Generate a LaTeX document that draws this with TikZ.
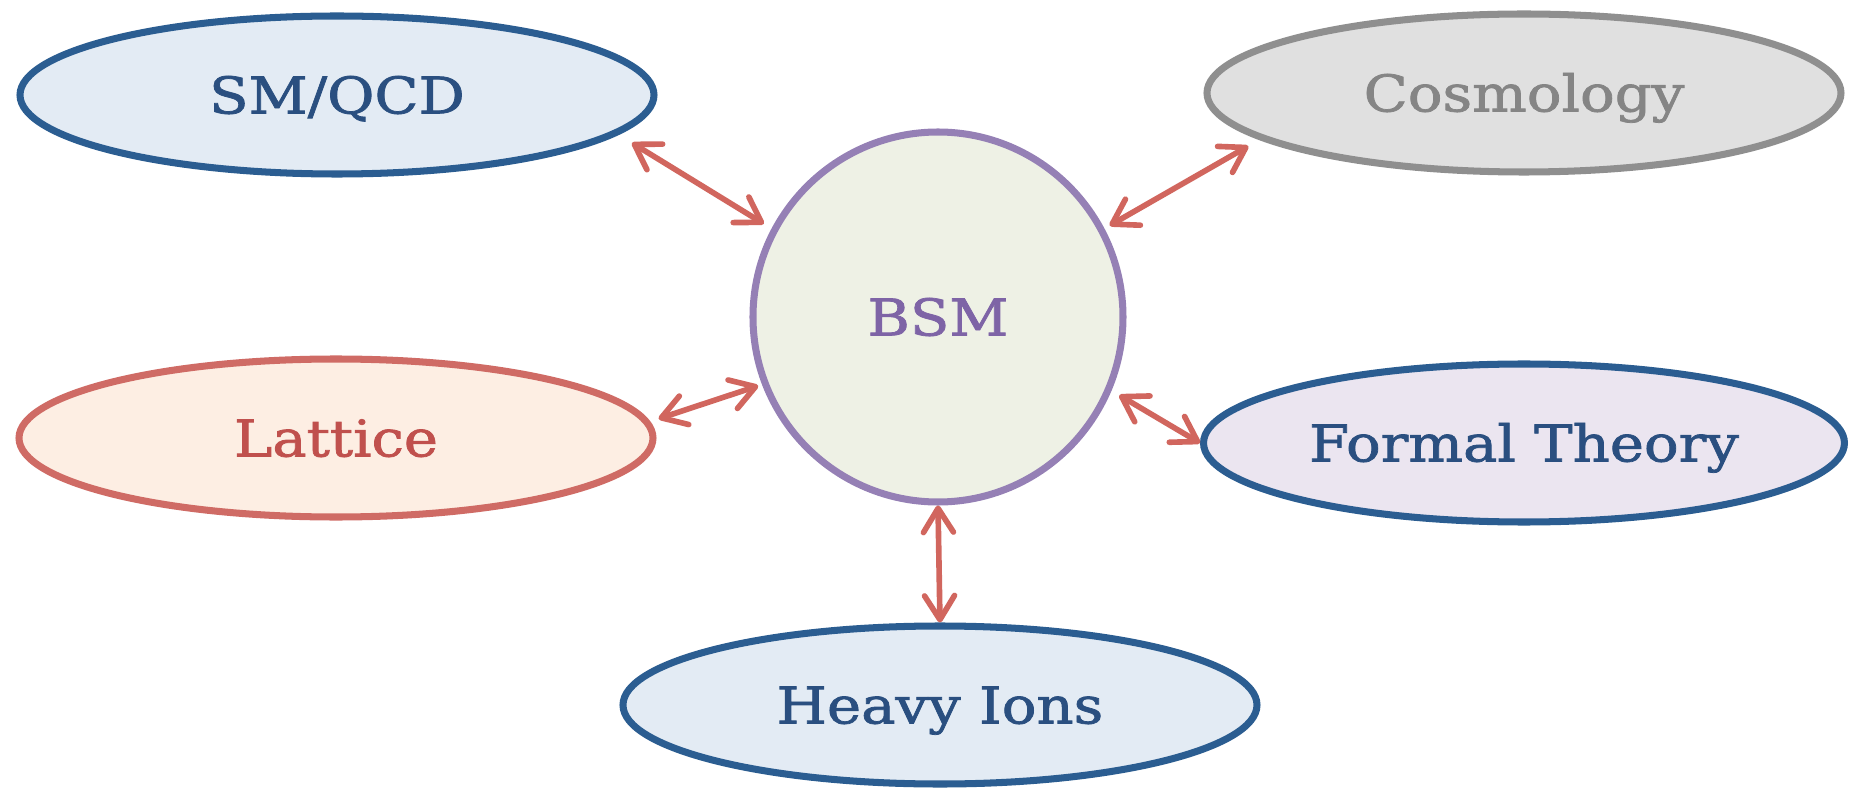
\documentclass[tikz,border=0pt]{standalone}
\usepackage{fontspec}
\setmainfont{DejaVu Serif}[FakeStretch=1.14, FakeBold=1.5]
\usepackage{xcolor}
\usetikzlibrary{shapes.geometric, arrows.meta, positioning}

\definecolor{navyline}{HTML}{2B5D91}
\definecolor{navytext}{HTML}{2A4F80}
\definecolor{paleblue}{HTML}{E3EBF4}
\definecolor{greyline}{HTML}{8F8F8F}
\definecolor{greytext}{HTML}{858585}
\definecolor{greyfill}{HTML}{E0E0E0}
\definecolor{lilacline}{HTML}{9580B5}
\definecolor{lilactext}{HTML}{7E64A6}
\definecolor{sagefill}{HTML}{EEF1E5}
\definecolor{coralline}{HTML}{CF6B65}
\definecolor{coraltext}{HTML}{C0504D}
\definecolor{peachfill}{HTML}{FDEEE3}
\definecolor{mauvefill}{HTML}{EBE5F0}
\definecolor{linkred}{HTML}{D1665E}

\begin{document}
\begin{tikzpicture}[
    label text/.style={font=\fontsize{14.4pt}{17pt}\selectfont, text height=10.5pt, text depth=0pt},
    area/.style={draw, ellipse, line width=2pt, minimum width=6.34cm, minimum height=1.58cm, label text},
    link/.style={draw=linkred, line width=1.6pt, line cap=round,
                 {Straight Barb[length=0.24cm, width=0.3cm, round]}-{Straight Barb[length=0.24cm, width=0.3cm, round]}}
]
    \useasboundingbox (-9.38,3.17) rectangle (9.18,-4.74);

    % Centre topic
    \node (bsm) [draw=lilacline, fill=sagefill, circle, line width=2pt, minimum size=3.7cm, text=lilactext,
                 label text] at (0, 0) {BSM};

    % Neighbouring fields
    \node (smqcd) [area, draw=navyline, fill=paleblue, text=navytext] at (-6.01, 2.22) {SM/QCD};
    \node (cosmo) [area, draw=greyline, fill=greyfill, text=greytext] at (5.86, 2.24) {Cosmology};
    \node (lattice) [area, draw=coralline, fill=peachfill, text=coraltext] at (-6.02, -1.21) {Lattice};
    \node (formal) [area, draw=navyline, fill=mauvefill, text=navytext] at (5.86, -1.26) {Formal Theory};
    \node (heavy) [area, draw=navyline, fill=paleblue, text=navytext] at (0.02, -3.88) {Heavy Ions};

    % Links
    \draw [link, shorten <=0.09cm, shorten >=0.16cm] (bsm.152) -- (smqcd.-8);
    \draw [link, shorten <=0.06cm, shorten >=0.13cm] (bsm.28) -- (cosmo.190);
    \draw [link, shorten <=0.04cm, shorten >=0.09cm] (bsm.201) -- (lattice.3);
    \draw [link, shorten <=0.09cm] (bsm.-23.5) -- (formal.west);
    \draw [link] (bsm.south) -- (heavy.north);
\end{tikzpicture}
\end{document}
